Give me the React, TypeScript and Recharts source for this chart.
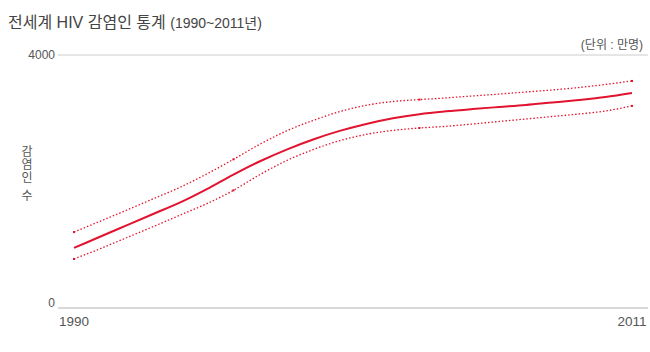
import { LineChart, Line, XAxis, YAxis, CartesianGrid } from 'recharts';

const years = [
  1990, 1991, 1992, 1993, 1994, 1995, 1996, 1997, 1998, 1999, 2000,
  2001, 2002, 2003, 2004, 2005, 2006, 2007, 2008, 2009, 2010, 2011,
];
// 감염인 수 (단위: 만명) - estimate, upper bound, lower bound
const estimate = [
  950, 1130, 1310, 1490, 1670, 1880, 2110, 2320, 2505, 2665, 2800,
  2910, 3000, 3065, 3110, 3146, 3178, 3209, 3249, 3289, 3336, 3400,
];
const upper = [
  1200, 1375, 1550, 1730, 1910, 2120, 2350, 2590, 2800, 2965, 3105,
  3205, 3265, 3295, 3322, 3352, 3383, 3415, 3447, 3486, 3534, 3590,
];
const lower = [
  775, 940, 1115, 1290, 1470, 1650, 1860, 2110, 2330, 2505, 2645,
  2745, 2808, 2846, 2872, 2909, 2949, 2988, 3028, 3067, 3115, 3195,
];
const xTicks = [1990, 2011];
const yTicks = [0, 4000];
const markIdx = [0, 6, 13, 21];
const yLabelChars = ['감', '염', '인', '수'];

const data = years.map((y, i) => ({
  year: y,
  estimate: estimate[i],
  upper: upper[i],
  lower: lower[i],
}));

const RED = '#e2132f';
const FONT = '"Liberation Sans", "Noto Sans CJK KR", sans-serif';

const boundDot = (props: any) => {
  const { cx, cy, index } = props;
  if (!markIdx.includes(index)) return <g key={`d${index}`} />;
  return <rect key={`d${index}`} x={cx - 1} y={cy - 1} width={2} height={2} fill={RED} />;
};

const YTick = (props: any) => {
  const { x, y, payload } = props;
  return (
    <text x={x} y={payload.value === 0 ? y - 5 : y} dy={4} textAnchor="end" fontSize={12} fill="#555" fontFamily={FONT}>
      {payload.value}
    </text>
  );
};

const YLabel = () => (
  <g>
    {yLabelChars.map((c, i) => (
      <text key={i} x={27} y={156 + i * 13 + (i === 3 ? 5 : 0)} textAnchor="middle" fontSize={12} fill="#555" fontFamily={FONT}>
        {c}
      </text>
    ))}
  </g>
);

export default function App() {
  return (
    <div style={{ position: 'absolute', left: 0, top: 0, width: 650, height: 352, background: '#fff', fontFamily: FONT }}>
      <div style={{ position: 'absolute', left: 8, top: 9, fontSize: 16, color: '#444', whiteSpace: 'nowrap' }}>
        전세계 HIV 감염인 통계 <span style={{ fontSize: 14 }}>(1990~2011년)</span>
      </div>
      <div style={{ position: 'absolute', right: 7, top: 35, fontSize: 12, color: '#555' }}>(단위 : 만명)</div>
      <LineChart width={650} height={352} data={data} margin={{ top: 55, right: 2, bottom: 14, left: 0 }}>
        <CartesianGrid horizontal vertical={false} stroke="#ccc" />
        <XAxis
          dataKey="year"
          type="number"
          domain={[1990, 2011]}
          ticks={xTicks}
          height={30}
          padding={{ left: 16, right: 16 }}
          axisLine={{ stroke: '#ccc' }}
          tickLine={false}
          tickSize={0}
          tickMargin={8}
          tick={{ fontSize: 13.5, fill: '#555', fontFamily: FONT }}
        />
        <YAxis
          width={58}
          domain={[0, 4000]}
          ticks={yTicks}
          axisLine={false}
          tickLine={false}
          tickSize={0}
          tickMargin={3}
          tick={<YTick />}
          label={{ content: () => <YLabel /> }}
        />
        <Line type="monotone" dataKey="upper" stroke={RED} strokeWidth={1.3} strokeDasharray="1.5 2" dot={boundDot} isAnimationActive={false} />
        <Line type="monotone" dataKey="lower" stroke={RED} strokeWidth={1.3} strokeDasharray="1.5 2" dot={boundDot} isAnimationActive={false} />
        <Line type="monotone" dataKey="estimate" stroke={RED} strokeWidth={2} dot={false} isAnimationActive={false} />
      </LineChart>
    </div>
  );
}
